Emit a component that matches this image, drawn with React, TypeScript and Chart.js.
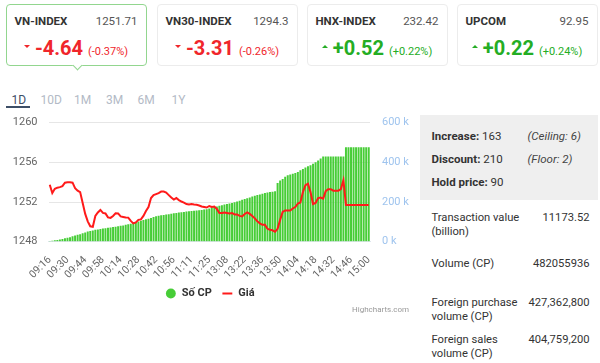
import React, { useEffect, useRef } from "react";
import { Chart, registerables } from "chart.js";
Chart.register(...registerables);

// ---------- data ----------
const times = [
  "09:16","09:18","09:20","09:22","09:24","09:26","09:28",
  "09:30","09:32","09:34","09:36","09:38","09:40","09:42",
  "09:44","09:46","09:48","09:50","09:52","09:54","09:56",
  "09:58","10:00","10:02","10:04","10:06","10:08","10:11",
  "10:14","10:16","10:18","10:20","10:22","10:24","10:26",
  "10:28","10:30","10:32","10:34","10:36","10:38","10:40",
  "10:42","10:44","10:46","10:48","10:50","10:52","10:54",
  "10:56","10:58","11:00","11:02","11:04","11:06","11:08",
  "11:11","11:13","11:15","11:17","11:19","11:21","11:23",
  "11:25","11:27","11:29","13:00","13:02","13:04","13:06",
  "13:08","13:10","13:12","13:14","13:16","13:18","13:20",
  "13:22","13:24","13:26","13:28","13:30","13:32","13:34",
  "13:36","13:38","13:40","13:42","13:44","13:46","13:48",
  "13:50","13:52","13:54","13:56","13:58","14:00","14:02",
  "14:04","14:06","14:08","14:10","14:12","14:14","14:16",
  "14:18","14:20","14:22","14:24","14:26","14:28","14:30",
  "14:32","14:34","14:36","14:38","14:40","14:42","14:44",
  "14:46","14:48","14:50","14:52","14:54","14:56","14:58",
  "15:00",
];

const tickLabels = [
  "09:16","09:30","09:44","09:58","10:14","10:28","10:42","10:56","11:11","11:25",
  "13:08","13:22","13:36","13:50","14:04","14:18","14:32","14:46","15:00",
];

// cumulative traded shares, thousands (right axis)
const volumeK = [
  4, 5, 7, 9, 11, 14, 17,
  20, 23, 27, 31, 35, 38, 42,
  47, 51, 54, 57, 60, 62, 64,
  66, 68, 70, 72, 74, 76, 78,
  80, 82, 85, 88, 91, 94, 98,
  102, 106, 110, 113, 116, 120, 124,
  128, 131, 133, 135, 137, 139, 141,
  143, 145, 147, 149, 150, 152, 153,
  155, 156, 157, 159, 160, 162, 164,
  168, 172, 175, 178, 181, 184, 187,
  190, 193, 195, 199, 203, 207, 211,
  215, 219, 223, 228, 232, 235, 238,
  242, 245, 248, 250, 252, 255, 296,
  308, 316, 328, 335, 339, 342, 346,
  352, 360, 367, 374, 380, 385, 393,
  400, 410, 420, 430, 430, 430, 430,
  430, 430, 430, 430, 430, 476, 476,
  476, 476, 476, 476, 476, 476, 476,
  476,
];

// VN-Index price (left axis)
const price = [
  1253.74, 1252.9, 1253.33, 1253.45, 1253.5, 1253.6, 1253.95,
  1254.0, 1254.0, 1253.95, 1253.4, 1253.15, 1253.0, 1251.9,
  1250.8, 1250.05, 1249.55, 1249.5, 1250.6, 1250.95, 1251.2,
  1250.9, 1250.85, 1250.45, 1250.4, 1250.6, 1250.87, 1250.85,
  1250.55, 1250.5, 1250.45, 1250.43, 1250.1, 1249.85, 1249.95,
  1250.2, 1250.25, 1250.6, 1251.1, 1251.5, 1252.4, 1252.7,
  1252.8, 1252.9, 1253.05, 1253.05, 1252.95, 1252.7, 1252.45,
  1252.25, 1252.4, 1252.2, 1252.05, 1251.95, 1251.8, 1251.75,
  1251.8, 1251.75, 1251.72, 1251.65, 1251.55, 1251.5, 1251.45,
  1251.6, 1251.5, 1251.55, 1251.3, 1250.9, 1250.9, 1250.95,
  1250.9, 1250.85, 1250.9, 1250.75, 1250.75, 1250.6, 1250.55,
  1250.8, 1250.95, 1250.8, 1250.6, 1250.35, 1250.05, 1249.85,
  1249.7, 1249.7, 1249.3, 1249.2, 1249.15, 1249.0, 1249.3,
  1250.2, 1251.0, 1251.15, 1251.15, 1251.15, 1251.35, 1251.5,
  1251.85, 1251.95, 1253.0, 1253.7, 1253.85, 1253.0, 1251.8,
  1251.9, 1252.4, 1252.45, 1252.35, 1253.1, 1253.3, 1253.3,
  1253.15, 1253.15, 1253.15, 1253.3, 1254.2, 1251.71, 1251.71,
  1251.71, 1251.71, 1251.71, 1251.71, 1251.71, 1251.71, 1251.71,
  1251.71,
];

const indexNames = ["VN-INDEX", "VN30-INDEX", "HNX-INDEX", "UPCOM"];
const indexValues = ["1251.71", "1294.3", "232.42", "92.95"];
const indexChanges = ["-4.64", "-3.31", "+0.52", "+0.22"];
const indexChangePcts = ["(-0.37%)", "(-0.26%)", "(+0.22%)", "(+0.24%)"];
const indexUp = [false, false, true, true];

const periodTabs = ["1D", "10D", "1M", "3M", "6M", "1Y"];

const breadthLabels = ["Increase:", "Discount:", "Hold price:"];
const breadthValues = ["163", "210", "90"];
const breadthNotes = ["(Ceiling: 6)", "(Floor: 2)", ""];

const statLabels = [
  ["Transaction value", "(billion)"],
  ["Volume (CP)"],
  ["Foreign purchase", "volume (CP)"],
  ["Foreign sales", "volume (CP)"],
];
const statValues = ["11173.52", "482055936", "427,362,800", "404,759,200"];

// ---------- styles ----------
const FONT = "Roboto, 'Noto Sans', sans-serif";
const RED = "#f0262b";
const GREEN = "#24ad24";

const cardLefts = [5.5, 156.5, 306.5, 456.5];
const tabLefts = [11.5, 40.5, 74, 106, 137.5, 171.5];
const breadthTops = [136, 159.3, 181.7];
const statTops = [218.3, 264, 303.3, 340];

function Card({ i }: { i: number }) {
  const up = indexUp[i];
  const col = up ? GREEN : RED;
  const active = i === 0;
  return (
    <div
      style={{
        position: "absolute",
        left: cardLefts[i],
        top: 3.5,
        width: 141,
        height: 62,
        boxSizing: "border-box",
        border: `1px solid ${active ? "#92d68f" : "#ececec"}`,
        borderRadius: 4,
        background: "#fff",
      }}
    >
      <div style={{ position: "absolute", left: 8, top: 7, fontSize: 11.5, fontWeight: 700, color: "#333", lineHeight: "18px" }}>
        {indexNames[i]}
      </div>
      <div style={{ position: "absolute", right: 8, top: 7, fontSize: 11.5, color: "#555", lineHeight: "18px" }}>
        {indexValues[i]}
      </div>
      <div
        style={{
          position: "absolute",
          left: 0,
          right: 0,
          top: 30,
          display: "flex",
          justifyContent: "center",
          alignItems: "baseline",
          color: col,
          whiteSpace: "nowrap",
        }}
      >
        <span
          style={{
            display: "inline-block",
            width: 0,
            height: 0,
            borderLeft: "3px solid transparent",
            borderRight: "3px solid transparent",
            borderTop: up ? "none" : `3.5px solid ${col}`,
            borderBottom: up ? `3.5px solid ${col}` : "none",
            marginRight: 5,
            position: "relative",
            top: -7,
          }}
        />
        <span style={{ fontSize: 20, fontWeight: 700, lineHeight: "26px", marginRight: 5 }}>{indexChanges[i]}</span>
        <span style={{ fontSize: 11, lineHeight: "14px" }}>{indexChangePcts[i]}</span>
      </div>
      {active && (
        <div
          style={{
            position: "absolute",
            left: 67,
            bottom: -4.5,
            width: 6,
            height: 6,
            background: "#fff",
            borderRight: "1px solid #92d68f",
            borderBottom: "1px solid #92d68f",
            transform: "rotate(45deg)",
          }}
        />
      )}
    </div>
  );
}

export default function App() {
  const ref = useRef<HTMLCanvasElement>(null);

  useEffect(() => {
    const canvas = ref.current;
    if (!canvas) return;
    Chart.defaults.font.family = FONT;
    const fixVertical = (w: number) => (s: any) => {
      s.width = w;
      s.paddingTop = 10.7;
      s.paddingBottom = 6;
    };
    const chart = new Chart(canvas, {
      type: "bar",
      data: {
        labels: times,
        datasets: [
          {
            type: "line",
            label: "Giá",
            data: price,
            yAxisID: "y",
            borderColor: "#ff1a1a",
            backgroundColor: "#ff1a1a",
            borderWidth: 2,
            pointRadius: 0,
            pointStyle: "line",
            tension: 0,
          } as any,
          {
            type: "bar",
            label: "Số CP",
            data: volumeK,
            yAxisID: "y1",
            backgroundColor: "#47cd37",
            borderWidth: 0,
            barPercentage: 0.78,
            categoryPercentage: 1,
            pointStyle: "circle",
          } as any,
        ],
      },
      options: {
        animation: false,
        responsive: false,
        maintainAspectRatio: false,
        layout: { padding: { top: 0, left: 0, right: 0, bottom: 0 } },
        plugins: {
          tooltip: { enabled: false },
          legend: {
            position: "bottom",
            reverse: true,
            labels: {
              usePointStyle: true,
              boxHeight: 7,
              padding: 10,
              color: "#333",
              font: { size: 11, weight: "bold" as any, family: FONT },
            },
          },
        },
        scales: {
          x: {
            grid: { display: false, drawTicks: false },
            border: { display: true, color: "#dfe6ee" },
            ticks: {
              autoSkip: false,
              maxRotation: 45,
              minRotation: 45,
              padding: 12,
              color: "#666",
              font: { size: 10.5, family: FONT },
              callback: (_v: any, i: number) => (tickLabels.includes(times[i]) ? times[i] : ""),
            },
            afterFit: (s: any) => {
              s.height = 36.3;
            },
          },
          y: {
            position: "left",
            min: 1248,
            max: 1260,
            grid: { color: "#e6e6e6", drawTicks: false },
            border: { display: false },
            ticks: {
              stepSize: 4,
              padding: 11,
              color: "#666",
              font: { size: 11, family: FONT },
              callback: (v: any) => String(v),
            },
            afterFit: fixVertical(48.5),
          },
          y1: {
            position: "right",
            min: 0,
            max: 600,
            grid: { drawOnChartArea: false, drawTicks: false },
            border: { display: false },
            ticks: {
              stepSize: 200,
              padding: 12,
              color: "#9fc4ee",
              font: { size: 11, family: FONT },
              callback: (v: any) => `${v} k`,
            },
            afterFit: fixVertical(50),
          },
        },
      },
    });
    return () => chart.destroy();
  }, []);

  return (
    <div
      style={{
        position: "absolute",
        left: 0,
        top: 0,
        width: 600,
        height: 363,
        overflow: "hidden",
        background: "#fff",
        fontFamily: FONT,
      }}
    >
      {indexNames.map((_, i) => (
        <Card key={i} i={i} />
      ))}

      {periodTabs.map((t, i) => (
        <div
          key={t}
          style={{
            position: "absolute",
            left: tabLefts[i],
            top: 92,
            fontSize: 12,
            lineHeight: "16px",
            color: i === 0 ? "#3d4e66" : "#b3bac6",
          }}
        >
          {t}
        </div>
      ))}
      <div style={{ position: "absolute", left: 6, top: 106, width: 24, height: 2, background: "#3d4e66" }} />

      <canvas
        ref={ref}
        width={420}
        height={197}
        style={{ position: "absolute", left: 0, top: 112, width: 420, height: 197 }}
      />
      <div style={{ position: "absolute", left: 352, top: 303.5, fontSize: 8, color: "#999", lineHeight: "11px" }}>
        Highcharts.com
      </div>

      <div style={{ position: "absolute", left: 420, top: 115, width: 178, height: 85, background: "#efefef" }} />
      {breadthLabels.map((l, i) => (
        <React.Fragment key={l}>
          <div
            style={{
              position: "absolute",
              left: 431.5,
              top: breadthTops[i] - 8,
              fontSize: 11.5,
              lineHeight: "16px",
              color: "#333",
              whiteSpace: "nowrap",
            }}
          >
            <b>{l}</b> {breadthValues[i]}
          </div>
          {breadthNotes[i] && (
            <div
              style={{
                position: "absolute",
                left: 527.5,
                top: breadthTops[i] - 8,
                fontSize: 11.5,
                lineHeight: "16px",
                color: "#444",
                fontStyle: "italic",
                whiteSpace: "nowrap",
              }}
            >
              {breadthNotes[i]}
            </div>
          )}
        </React.Fragment>
      ))}

      {statLabels.map((lines, i) => (
        <React.Fragment key={i}>
          <div
            style={{
              position: "absolute",
              left: 431.5,
              top: statTops[i] - 7.5,
              fontSize: 11.2,
              lineHeight: "14.5px",
              color: "#333",
              whiteSpace: "nowrap",
            }}
          >
            {lines.map((ln, j) => (
              <div key={j}>{ln}</div>
            ))}
          </div>
          <div
            style={{
              position: "absolute",
              right: 10.5,
              top: statTops[i] - 7.5,
              fontSize: 11.2,
              lineHeight: "14.5px",
              color: "#333",
              whiteSpace: "nowrap",
            }}
          >
            {statValues[i]}
          </div>
        </React.Fragment>
      ))}
    </div>
  );
}
